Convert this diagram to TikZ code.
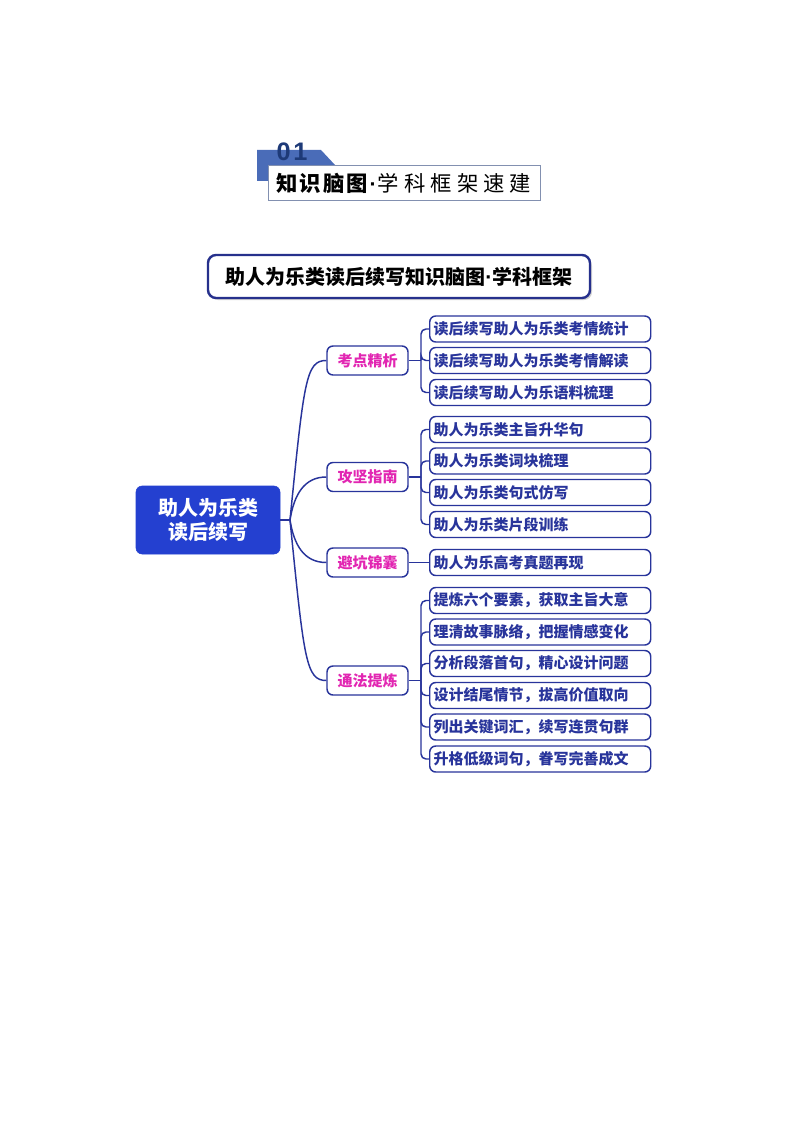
\documentclass[tikz,border=0pt]{standalone}
\usepackage{fontspec}
\setmainfont{Noto Sans CJK SC}
\newfontfamily\numfont{Liberation Sans}
\definecolor{navy}{RGB}{40,52,155}
\definecolor{rootblue}{RGB}{36,64,208}
\definecolor{mag}{RGB}{226,38,178}
\definecolor{hdrblue}{RGB}{74,108,184}
\definecolor{hdrdark}{RGB}{30,58,120}
\definecolor{hdrline}{RGB}{130,144,176}
\definecolor{titlenavy}{RGB}{38,48,140}
\newcommand{\hk}{\kern1.6pt}
\newcommand{\rk}{\kern3.8pt}
\tikzset{
  conn/.style={draw=navy,line width=1.1pt},
  lvlone/.style={draw=navy,line width=1.1pt,rounded corners=4.5pt,fill=white,
    minimum width=60.75pt,minimum height=21.75pt,inner sep=0pt,
    font=\fontsize{11.25pt}{13pt}\selectfont\bfseries,text=mag},
  lvltwo/.style={draw=navy,line width=1.1pt,rounded corners=4.5pt,fill=white,
    anchor=west,text width=159.75pt,inner xsep=3pt,inner ysep=0pt,
    minimum height=19.5pt,align=left,
    font=\fontsize{11.25pt}{13pt}\selectfont\bfseries,text=navy},
  rootbox/.style={fill=rootblue,draw=rootblue,rounded corners=4.5pt,
    minimum width=108pt,minimum height=51pt,inner sep=0pt,align=center,
    font=\fontsize{15pt}{18pt}\selectfont\bfseries,text=white},
  titlebox/.style={draw=titlenavy,line width=1.8pt,rounded corners=6pt,fill=white,
    minimum width=286.5pt,minimum height=32.25pt,inner sep=0pt,
    font=\fontsize{15pt}{16pt}\selectfont\bfseries,text=black},
  branch/.style={conn,rounded corners=3.75pt}
}
\begin{document}
\begin{tikzpicture}[x=0.75pt,y=-0.75pt]
\useasboundingbox[fill=white] (0,0) rectangle (794,1123);

% header
\fill[hdrblue] (257,150) -- (321,150) -- (335,165) -- (335,181) -- (257,181) -- cycle;
\node[draw=hdrline,line width=0.7pt,fill=white,anchor=north west,
  minimum height=26.25pt,text width=192pt,inner xsep=6pt,inner ysep=0pt,align=left,
  font=\fontsize{16pt}{18pt}\selectfont] (hdr) at (268,165)
  {\textbf{知\hk 识\hk 脑\hk 图}\kern1pt{\numfont\bfseries ·}\kern1pt 学\rk 科\rk 框\rk 架\rk 速\rk 建};
\node[font=\numfont\fontsize{19pt}{20pt}\selectfont\bfseries,text=hdrdark,inner sep=0pt]
  (num) at (292,152) {0\kern2pt 1};

% title
\fill[gray!35,rounded corners=6pt] (210,258) rectangle (592,300);
\node[titlebox] (title) at (399,276.5) {助人为乐类读后续写知识脑图{\numfont\bfseries\fontsize{16pt}{16pt}\selectfont ·}学科框架};

% root
\node[rootbox] (root) at (208,520) {助人为乐类\\读后续写};
\coordinate (rj) at (290,520);

% level one
\node[lvlone] (k1) at (367.5,360.5) {考点精析};
\node[lvlone] (k2) at (367.5,477) {攻坚指南};
\node[lvlone] (k3) at (367.5,562.5) {避坑锦囊};
\node[lvlone] (k4) at (367.5,680.5) {通法提炼};

% level two
\node[lvltwo] (a1) at (429,329) {读后续写助人为乐类考情统计};
\node[lvltwo] (a2) at (429,360.5) {读后续写助人为乐类考情解读};
\node[lvltwo] (a3) at (429,392.5) {读后续写助人为乐语料梳理};

\node[lvltwo] (b1) at (429,429.5) {助人为乐类主旨升华句};
\node[lvltwo] (b2) at (429,461) {助人为乐类词块梳理};
\node[lvltwo] (b3) at (429,492.5) {助人为乐类句式仿写};
\node[lvltwo] (b4) at (429,524.5) {助人为乐类片段训练};

\node[lvltwo] (c1) at (429,562.5) {助人为乐高考真题再现};

\node[lvltwo] (d1) at (429,600.5) {提炼六个要素，获取主旨大意};
\node[lvltwo] (d2) at (429,632) {理清故事脉络，把握情感变化};
\node[lvltwo] (d3) at (429,663.5) {分析段落首句，精心设计问题};
\node[lvltwo] (d4) at (429,695.5) {设计结尾情节，拔高价值取向};
\node[lvltwo] (d5) at (429,727) {列出关键词汇，续写连贯句群};
\node[lvltwo] (d6) at (429,759) {升格低级词句，眷写完善成文};

% root connectors
\draw[conn] (root.east) -- (rj);
\draw[conn] (rj) .. controls (304,380) and (306,360.5) .. (k1.west);
\draw[conn] (rj) .. controls (294,495) and (304,477) .. (k2.west);
\draw[conn] (rj) .. controls (294,545) and (304,562.5) .. (k3.west);
\draw[conn] (rj) .. controls (304,660) and (306,680.5) .. (k4.west);

% level one to level two
\coordinate (s1) at (421,360.5);
\coordinate (s2) at (421,477);
\coordinate (s4) at (421,680.5);

\draw[conn] (k1.east) -- (s1);
\foreach \n in {a1,a2,a3} \draw[branch] (s1) |- (\n.west);
\draw[conn] (k2.east) -- (s2);
\foreach \n in {b1,b2,b3,b4} \draw[branch] (s2) |- (\n.west);
\draw[conn] (k3.east) -- (c1.west);
\draw[conn] (k4.east) -- (s4);
\foreach \n in {d1,d2,d3,d4,d5,d6} \draw[branch] (s4) |- (\n.west);
\end{tikzpicture}
\end{document}
